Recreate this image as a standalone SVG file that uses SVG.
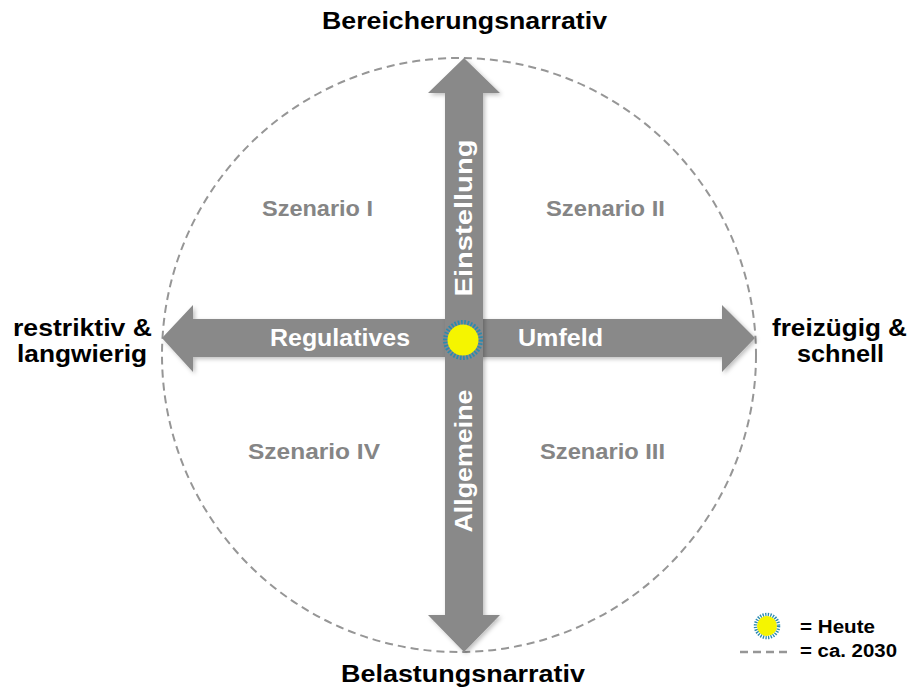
<svg xmlns="http://www.w3.org/2000/svg" width="911" height="689" viewBox="0 0 911 689">
<defs>
<style>
.lbl{font-family:"Liberation Sans",Arial,sans-serif;font-weight:bold;fill:#000;font-size:23px}
.scn{font-family:"Liberation Sans",Arial,sans-serif;font-weight:bold;fill:#858585;font-size:22px}
.ax{font-family:"Liberation Sans",Arial,sans-serif;font-weight:bold;fill:#fff;font-size:23px}
.arrow{fill:#898989}
.leg{font-family:"Liberation Sans",Arial,sans-serif;font-weight:bold;fill:#000;font-size:18px}
</style>
<filter id="sh" x="-10%" y="-10%" width="120%" height="120%">
<feDropShadow dx="2" dy="2" stdDeviation="2" flood-color="#000" flood-opacity="0.25"/>
</filter>
</defs>
<rect width="911" height="689" fill="#fff"/>
<g id="connectors">
<ellipse cx="459" cy="355" rx="297" ry="297" fill="none" stroke="#969696" stroke-width="2" stroke-dasharray="8 5"/>
<polygon class="arrow" filter="url(#sh)" points="162,338 193,305 193,319 722,319 722,305 755,338 722,372 722,357 193,357 193,372"/>
<polygon class="arrow" filter="url(#sh)" points="464,58 500,93 483,93 483,615 500,615 464,652 428,615 445,615 445,93 428,93"/>
</g>
<g id="axis-labels">
<text class="ax" x="270" y="346" textLength="140" lengthAdjust="spacingAndGlyphs">Regulatives</text>
<text class="ax" x="518" y="346" textLength="85" lengthAdjust="spacingAndGlyphs">Umfeld</text>
<text class="ax" transform="translate(472,218) rotate(-90)" text-anchor="middle" textLength="157" lengthAdjust="spacingAndGlyphs">Einstellung</text>
<text class="ax" transform="translate(472,461) rotate(-90)" text-anchor="middle" textLength="143" lengthAdjust="spacingAndGlyphs">Allgemeine</text>
</g>
<g id="heute">
<circle cx="463" cy="340" r="17.5" fill="none" stroke="#2a8ab0" stroke-width="5" stroke-dasharray="1.6 1.6"/>
<circle cx="463" cy="340" r="15.5" fill="#f5f500"/>
</g>
<g id="top"><text class="lbl" x="322" y="29" textLength="285" lengthAdjust="spacingAndGlyphs">Bereicherungsnarrativ</text></g>
<g id="bottom"><text class="lbl" x="341" y="682" textLength="244" lengthAdjust="spacingAndGlyphs">Belastungsnarrativ</text></g>
<g id="left">
<text class="lbl" x="13" y="336" textLength="139" lengthAdjust="spacingAndGlyphs">restriktiv &amp;</text>
<text class="lbl" x="17" y="362" textLength="130" lengthAdjust="spacingAndGlyphs">langwierig</text>
</g>
<g id="right">
<text class="lbl" x="772" y="336" textLength="135" lengthAdjust="spacingAndGlyphs">freizügig &amp;</text>
<text class="lbl" x="797" y="362" textLength="87" lengthAdjust="spacingAndGlyphs">schnell</text>
</g>
<g id="s1"><text class="scn" x="262" y="216" textLength="111" lengthAdjust="spacingAndGlyphs">Szenario I</text></g>
<g id="s2"><text class="scn" x="546" y="216" textLength="119" lengthAdjust="spacingAndGlyphs">Szenario II</text></g>
<g id="s4"><text class="scn" x="248" y="459" textLength="132" lengthAdjust="spacingAndGlyphs">Szenario IV</text></g>
<g id="s3"><text class="scn" x="540" y="459" textLength="125" lengthAdjust="spacingAndGlyphs">Szenario III</text></g>
<g id="legend">
<circle cx="767" cy="626" r="11.5" fill="none" stroke="#2a8ab0" stroke-width="3.5" stroke-dasharray="1.3 1.3"/>
<circle cx="767" cy="626" r="10" fill="#f5f500"/>
<text class="leg" x="800" y="633" textLength="75" lengthAdjust="spacingAndGlyphs">= Heute</text>
<line x1="740" y1="652" x2="790" y2="652" stroke="#969696" stroke-width="2.5" stroke-dasharray="8 5"/>
<text class="leg" x="800" y="657" textLength="97" lengthAdjust="spacingAndGlyphs">= ca. 2030</text>
</g>
</svg>
